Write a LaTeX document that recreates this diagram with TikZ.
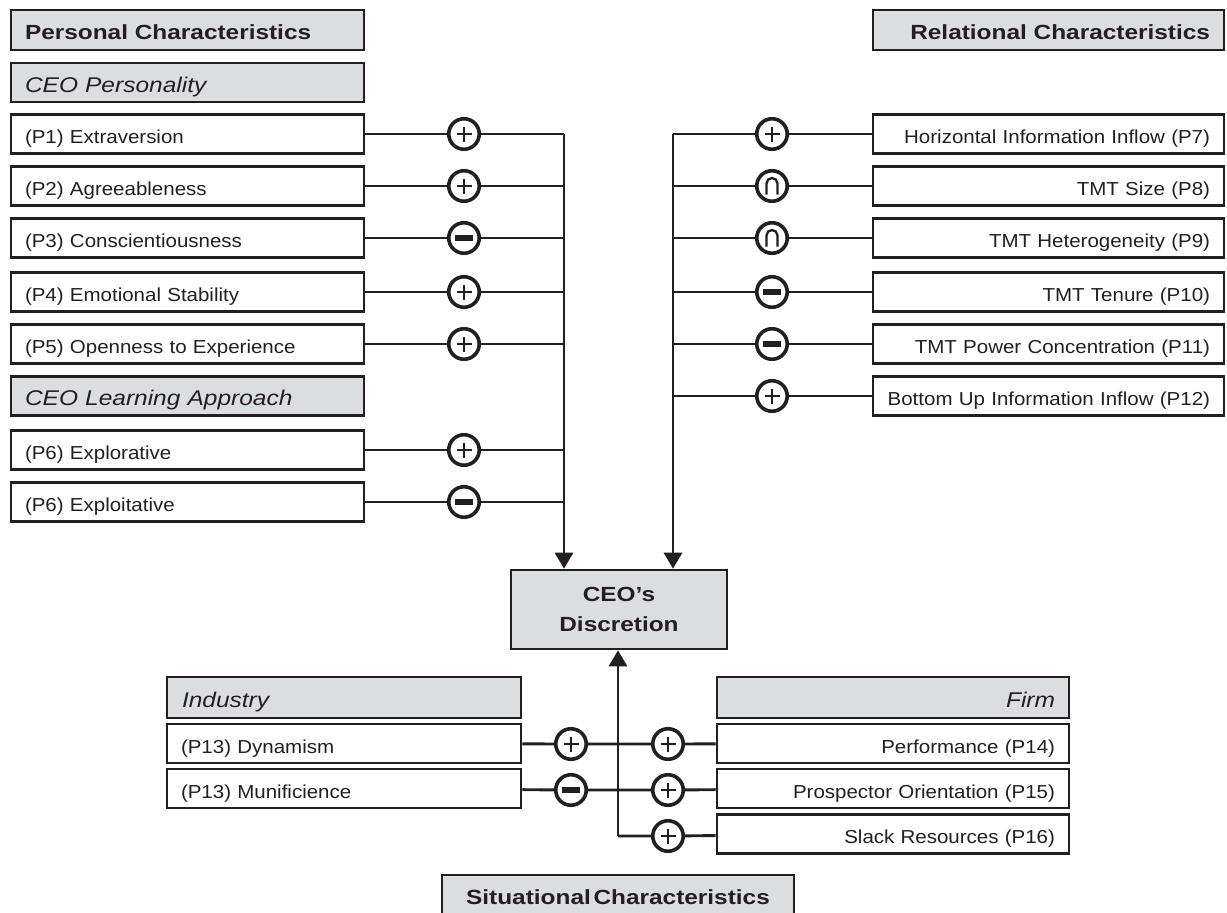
\documentclass[tikz,border=0pt]{standalone}
\usepackage{fontspec}
\setmainfont{Liberation Sans}[FakeStretch=1.09]
\newfontfamily\itfam{Liberation Sans}[FakeStretch=1.15,WordSpace=0.5]
\newfontfamily\bffam{Liberation Sans}[FakeStretch=1.19,WordSpace=0.4]
\usetikzlibrary{arrows.meta}
\definecolor{hdr}{RGB}{220,221,223}
\definecolor{ink}{RGB}{35,31,32}
\newcommand\itm{\fontsize{18.8}{21}\selectfont}
\newcommand\hbold{\bffam\fontsize{20.5}{24}\selectfont\bfseries}
\newcommand\hital{\itfam\fontsize{21.3}{24}\selectfont\itshape}
\newcommand\sgplus[1]{\draw[ink,line width=2.6pt] ([xshift=-7.5pt]#1.center) -- ([xshift=7.5pt]#1.center) ([yshift=-7.5pt]#1.center) -- ([yshift=7.5pt]#1.center);}
\newcommand\sgminus[1]{\draw[ink,line width=6pt] ([xshift=-9pt]#1.center) -- ([xshift=9pt]#1.center);}
\newcommand\sgcap[1]{\draw[ink,line width=2.3pt] ([shift={(-5.5,8.5)}]#1.center) -- ++(0,-11) arc[start angle=180,end angle=360,radius=5.5] -- ++(0,11);}
\begin{document}
\begin{tikzpicture}[x=1pt,y=-1pt,
  box/.style={draw=ink,line width=2.6pt,fill=white,text=ink,minimum height=39pt,inner xsep=14pt,inner ysep=0pt,text height=19pt,text depth=0pt},
  lbox/.style={box,minimum width=353pt,text width=325pt,align=left,font=\itm},
  rbox/.style={box,minimum width=351pt,text width=323pt,align=right,font=\itm},
  hbox/.style={box,fill=hdr,minimum height=40pt},
  sig/.style={circle,draw=ink,line width=3.6pt,fill=white,minimum size=30.5pt,inner sep=0pt},
  conn/.style={draw=ink,line width=2.9pt},
  arr/.style={conn,-{Triangle[length=16pt,width=18pt]}}
]
\useasboundingbox (0,0) rectangle (1227,913);
\clip (0,0) rectangle (1227,913);

% ---------- left: personal characteristics ----------
\node[hbox,minimum width=353pt,text width=325pt,align=left,font=\hbold,text height=18pt] (pc) at (187.5,30) {Personal Characteristics};
\node[hbox,minimum width=353pt,text width=325pt,align=left,font=\hital,minimum height=39pt] (ceop) at (187.5,82.5) {CEO Personality};
\node[lbox] (p1) at (187.5,134) {(P1) Extraversion};
\node[lbox] (p2) at (187.5,186) {(P2) Agreeableness};
\node[lbox] (p3) at (187.5,238) {(P3) Conscientiousness};
\node[lbox] (p4) at (187.5,292) {(P4) Emotional Stability};
\node[lbox] (p5) at (187.5,344) {(P5) Openness to Experience};
\node[hbox,minimum width=353pt,text width=325pt,align=left,font=\hital,minimum height=39pt] (lrn) at (187.5,396) {CEO Learning Approach};
\node[lbox] (p6a) at (187.5,450) {(P6) Explorative};
\node[lbox] (p6b) at (187.5,502) {(P6) Exploitative};

% ---------- right: relational characteristics ----------
\node[hbox,minimum width=351pt,text width=323pt,align=right,font=\hbold,text height=18pt] (rc) at (1048.5,30) {Relational Characteristics};
\node[rbox] (r7) at (1048.5,134) {Horizontal Information Inflow (P7)};
\node[rbox] (r8) at (1048.5,186) {TMT Size (P8)};
\node[rbox] (r9) at (1048.5,238) {TMT Heterogeneity (P9)};
\node[rbox] (r10) at (1048.5,292) {TMT Tenure (P10)};
\node[rbox] (r11) at (1048.5,344) {TMT Power Concentration (P11)};
\node[rbox] (r12) at (1048.5,396) {Bottom Up Information Inflow (P12)};

% ---------- centre ----------
\node[draw=ink,line width=2.6pt,fill=hdr,text=ink,minimum width=216pt,minimum height=79pt,align=center,inner sep=0pt,font={\bffam\fontsize{20.5}{30}\selectfont\bfseries}] (ceo) at (619,609.5) {\raisebox{-2pt}{CEO’s}\\\raisebox{-2pt}{Discretion}};

% ---------- bottom: situational ----------
\node[hbox,minimum width=354pt,text width=324pt,align=left,font=\hital,minimum height=41pt,inner xsep=15pt] (ind) at (344,697.5) {Industry};
\node[box,minimum width=354pt,text width=326pt,align=left,font=\itm] (dyn) at (344,743.5) {(P13) Dynamism};
\node[box,minimum width=354pt,text width=326pt,align=left,font=\itm] (mun) at (344,788.5) {(P13) Munificience};
\node[hbox,minimum width=352pt,text width=324pt,align=right,font=\hital,minimum height=41pt] (firm) at (893,697.5) {Firm};
\node[box,minimum width=352pt,text width=324pt,align=right,font=\itm] (perf) at (893,743.5) {Performance (P14)};
\node[box,minimum width=352pt,text width=324pt,align=right,font=\itm] (pros) at (893,788.5) {Prospector Orientation (P15)};
\node[box,minimum width=352pt,text width=324pt,align=right,font=\itm] (slack) at (893,834) {Slack Resources (P16)};
\node[hbox,minimum width=352pt,minimum height=42pt,align=center,font=\hbold,text height=16pt] (sit) at (618,896) {Situational Characteristics};

% ---------- junction coordinates ----------
\foreach \n/\y in {1/134,2/186,3/238,4/292,5/344,6/450,7/502} {\coordinate (jl\n) at (564,\y);}
\foreach \n/\y in {1/134,2/186,3/238,4/292,5/344,6/396} {\coordinate (jr\n) at (673,\y);}
\coordinate (jb) at (618,836);

% ---------- connectors ----------
\path[conn] (jl1) -- (jl7);
\draw[arr] (jl7) -- (jl7 |- ceo.north);
\path[conn] (jr1) -- (jr6);
\draw[arr] (jr6) -- (jr6 |- ceo.north);
\draw[arr] (jb) -- (jb |- ceo.south);

\foreach \b/\n/\y in {p1/1/134,p2/2/186,p3/3/238,p4/4/292,p5/5/344,p6a/6/450,p6b/7/502} {
  \node[sig] (cl\n) at (464,\y) {};
  \path[conn] (\b) -- (cl\n) -- (jl\n);
}
\foreach \b/\n/\y in {r7/1/134,r8/2/186,r9/3/238,r10/4/292,r11/5/344,r12/6/396} {
  \node[sig] (cr\n) at (772,\y) {};
  \path[conn] (\b) -- (cr\n) -- (jr\n);
}
\node[sig] (cb1) at (571,744) {};
\node[sig] (cb2) at (571,790) {};
\node[sig] (cf1) at (668,744) {};
\node[sig] (cf2) at (668,790) {};
\node[sig] (cf3) at (668,836) {};
\path[conn] (dyn) -- (cb1) -- (cf1) -- (perf);
\path[conn] (mun) -- (cb2) -- (cf2) -- (pros);
\path[conn] (jb) -- (cf3) -- (slack);

% ---------- signs ----------
\sgplus{cl1}\sgplus{cl2}\sgminus{cl3}\sgplus{cl4}\sgplus{cl5}\sgplus{cl6}\sgminus{cl7}
\sgplus{cr1}\sgcap{cr2}\sgcap{cr3}\sgminus{cr4}\sgminus{cr5}\sgplus{cr6}
\sgplus{cb1}\sgminus{cb2}\sgplus{cf1}\sgplus{cf2}\sgplus{cf3}
\end{tikzpicture}
\end{document}
